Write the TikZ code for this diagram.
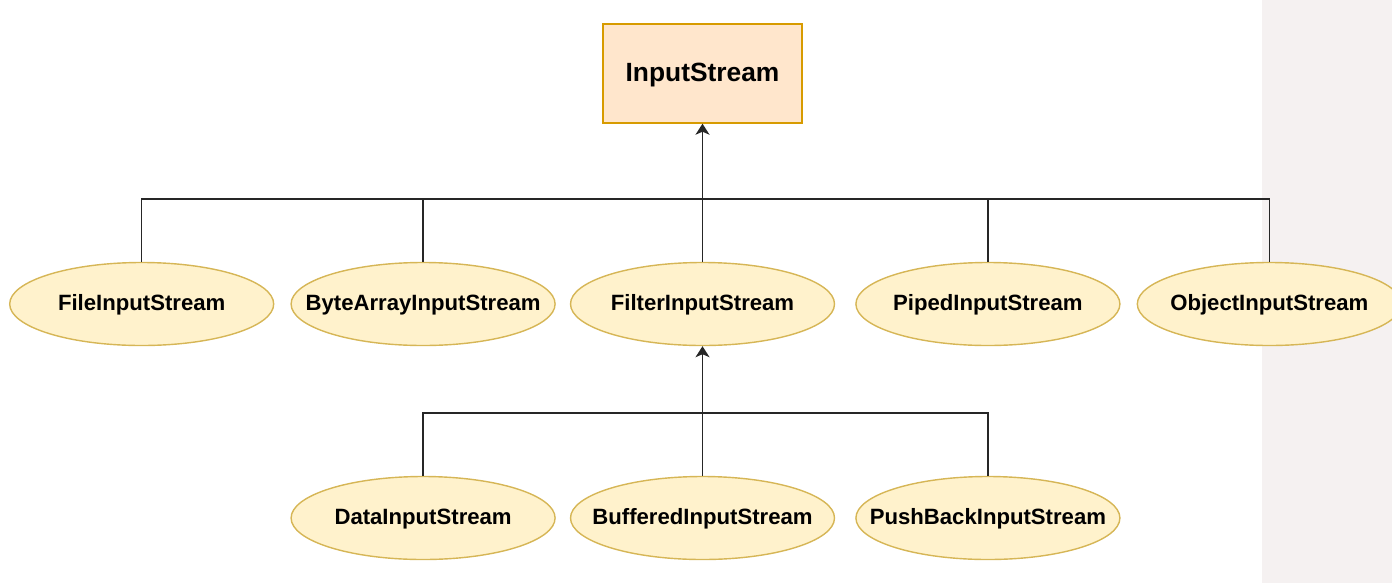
\documentclass[tikz,border=0pt]{standalone}
\usepackage{fontspec}
\setmainfont{Liberation Sans}
\usepackage{tikz}
\usetikzlibrary{arrows.meta,positioning,shapes.geometric}
\definecolor{boxfill}{HTML}{FFE6CC}
\definecolor{boxline}{HTML}{D79B00}
\definecolor{ovfill}{HTML}{FFF2CC}
\definecolor{ovline}{HTML}{D6B656}
\definecolor{panel}{RGB}{245,241,241}
\tikzset{
  base/.style={draw=boxline,fill=boxfill,line width=0.8pt,minimum width=3.98cm,minimum height=1.98cm,text height=1.1em,text depth=0.21em,font=\fontsize{15}{17}\selectfont\bfseries},
  cls/.style={ellipse,draw=ovline,fill=ovfill,line width=0.8pt,inner ysep=0pt,inner xsep=-0.7cm,minimum width=5.28cm,minimum height=1.66cm,text height=1.0em,text depth=0.21em,font=\fontsize{12.6}{14}\selectfont\bfseries},
  lnk/.style={draw=black!85,line width=0.85pt},
  arr/.style={lnk,-{Stealth[length=0.22cm,width=0.28cm,inset=0.06cm]}},
}
\begin{document}
\begin{tikzpicture}[node distance=0.32cm]
  \useasboundingbox (0,0) rectangle (27.84,-11.66);
  \fill[panel] (25.24,0) rectangle (27.84,-11.66);
  % top class
  \node[base] (is) at (14.05,-1.47) {InputStream};
  % direct subclasses
  \node[cls] (fil) at (14.05,-6.08) {FilterInputStream};
  \node[cls,left=0.28cm of fil] (bais) {ByteArrayInputStream};
  \node[cls,left=0.32cm of bais] (fis) {FileInputStream};
  \node[cls,right=0.4cm of fil] (pis) {PipedInputStream};
  \node[cls,right=0.32cm of pis] (ois) {ObjectInputStream};
  % filter subclasses
  \node[cls] (bis) at (14.05,-10.36) {BufferedInputStream};
  \node[cls,left=0.28cm of bis] (dis) {DataInputStream};
  \node[cls,right=0.4cm of bis] (pbis) {PushBackInputStream};
  % buses
  \coordinate (j1) at (is.south |- 0,-3.98);
  \coordinate (j2) at (fil.south |- 0,-8.26);
  \draw[arr] (j1) -- (is);
  \draw[lnk] (fil) -- (j1);
  \foreach \n in {fis,bais,pis,ois}{\draw[lnk] (\n.north) |- (j1);}
  \draw[arr] (j2) -- (fil);
  \draw[lnk] (bis) -- (j2);
  \foreach \n in {dis,pbis}{\draw[lnk] (\n.north) |- (j2);}
\end{tikzpicture}
\end{document}
